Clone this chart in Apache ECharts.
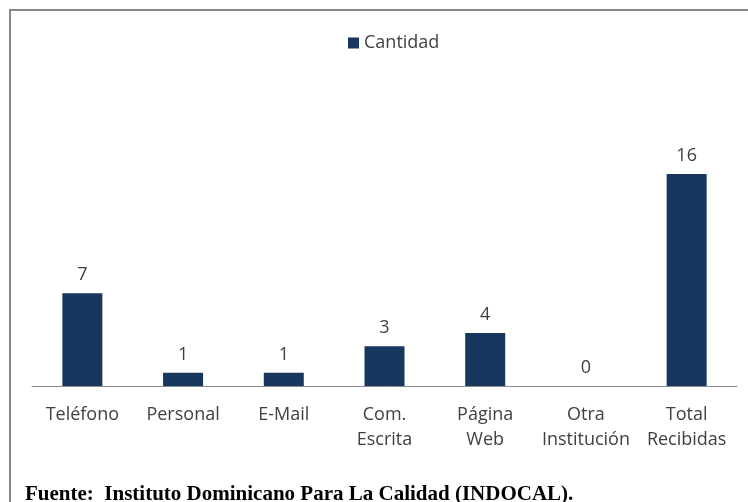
<!DOCTYPE html>
<html>
<head>
<meta charset="utf-8">
<script src="https://cdn.jsdelivr.net/npm/echarts@6/dist/echarts.min.js"></script>
<style>
  html, body { margin: 0; padding: 0; background: #fff; }
  #chart { width: 748px; height: 502px; }
</style>
</head>
<body>
<div id="chart"></div>
<script>
// categorias y valores
const categorias = ['Teléfono', 'Personal', 'E-Mail', 'Com.\nEscrita', 'Página\nWeb', 'Otra\nInstitución', 'Total\nRecibidas'];
const cantidad = [7, 1, 1, 3, 4, 0, 16];
const serieNombre = 'Cantidad';
const fuente = 'Fuente:  Instituto Dominicano Para La Calidad (INDOCAL).';

const chart = echarts.init(document.getElementById('chart'));
chart.setOption({
    animation: false,
    textStyle: { fontFamily: 'Open Sans' },
    legend: {
        data: [serieNombre],
        top: 29,
        left: 343,
        itemWidth: 11,
        itemHeight: 11,
        itemGap: 6,
        icon: 'rect',
        textStyle: { fontSize: 18, color: '#404040', fontFamily: 'Open Sans', padding: [0, 0, 0, 0] }
    },
    grid: { left: 32, right: 11, top: 174, bottom: 116 },
    xAxis: {
        type: 'category',
        data: categorias,
        axisLine: { lineStyle: { color: '#8c8c8c', width: 1 } },
        axisTick: { show: false },
        axisLabel: {
            interval: 0,
            fontSize: 18,
            color: '#404040',
            lineHeight: 25,
            margin: 16
        }
    },
    yAxis: {
        type: 'value',
        min: 0,
        max: 16,
        show: false,
        splitLine: { show: false }
    },
    series: [{
        name: serieNombre,
        type: 'bar',
        data: cantidad,
        barWidth: 40,
        itemStyle: { color: '#17375e' },
        label: {
            show: true,
            position: 'top',
            distance: 9,
            fontSize: 18,
            color: '#404040'
        }
    }],
    graphic: [
        {
            type: 'rect',
            shape: { x: 10, y: 10, width: 760, height: 520 },
            style: { fill: 'none', stroke: '#878787', lineWidth: 2 },
            z: -1
        },
        {
            type: 'text',
            left: 25,
            top: 484,
            style: {
                text: fuente,
                font: 'bold 21px "Liberation Serif"',
                fill: '#000'
            }
        }
    ]
});
</script>
</body>
</html>
